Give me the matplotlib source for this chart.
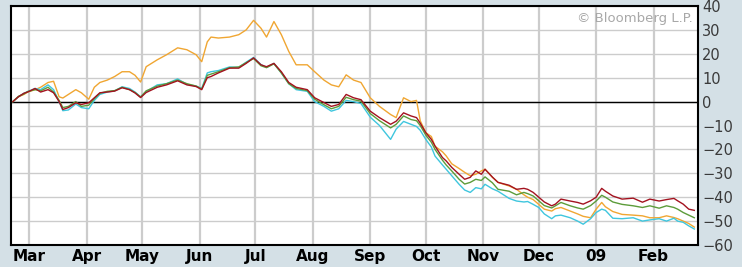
import numpy as np
import matplotlib.pyplot as plt
import matplotlib.dates as mdates
from matplotlib.ticker import FuncFormatter

# Sample dates (Feb 2008 - Feb 2009)
dates = np.array([
    '2008-02-21', '2008-02-24', '2008-02-27', '2008-02-29', '2008-03-04', '2008-03-07',
    '2008-03-11', '2008-03-14', '2008-03-17', '2008-03-19', '2008-03-22', '2008-03-26',
    '2008-03-29', '2008-04-02', '2008-04-05', '2008-04-08', '2008-04-12', '2008-04-16',
    '2008-04-20', '2008-04-24', '2008-04-27', '2008-04-30', '2008-05-03', '2008-05-09',
    '2008-05-14', '2008-05-20', '2008-05-25', '2008-05-30', '2008-06-02', '2008-06-05',
    '2008-06-07', '2008-06-11', '2008-06-17', '2008-06-22', '2008-06-26', '2008-06-30',
    '2008-07-04', '2008-07-07', '2008-07-11', '2008-07-15', '2008-07-19', '2008-07-23',
    '2008-07-29', '2008-08-02', '2008-08-07', '2008-08-11', '2008-08-15', '2008-08-19',
    '2008-08-23', '2008-08-27', '2008-09-01', '2008-09-06', '2008-09-12', '2008-09-15',
    '2008-09-19', '2008-09-23', '2008-09-26', '2008-09-28', '2008-10-01', '2008-10-04',
    '2008-10-06', '2008-10-10', '2008-10-12', '2008-10-15', '2008-10-19', '2008-10-22',
    '2008-10-25', '2008-10-28', '2008-10-31', '2008-11-02', '2008-11-06', '2008-11-09',
    '2008-11-15', '2008-11-19', '2008-11-23', '2008-11-25', '2008-11-28', '2008-12-01',
    '2008-12-04', '2008-12-08', '2008-12-10', '2008-12-13', '2008-12-18', '2008-12-22',
    '2008-12-25', '2008-12-29', '2009-01-01', '2009-01-04', '2009-01-06', '2009-01-10',
    '2009-01-15', '2009-01-21', '2009-01-26', '2009-01-30', '2009-02-04', '2009-02-08',
    '2009-02-12', '2009-02-14', '2009-02-17', '2009-02-20', '2009-02-23',
], dtype='datetime64[D]')

# percent change, four series
orange = [
    0, 2, 3, 4, 5, 6, 8, 8.5, 2, 1.5, 3, 5, 3.7, 1, 6, 8, 9, 10.5, 12.5, 12.5, 11,
    8.2, 14.6, 17.5, 19.6, 22.5, 21.7, 19.6, 16.7, 25, 27, 26.6, 27, 28, 30, 34,
    30.7, 27, 33.5, 28, 21, 15.4, 15.4, 12.5, 9, 7, 6.2, 11.2, 9, 8, 1.6, -2, -5.4,
    -6.7, 1.6, 0, 0.5, -8, -13, -14.6, -18.7, -21, -22.7, -26, -28, -29.6, -31,
    -30.4, -29, -28.3, -31.7, -33.8, -35.3, -36.7, -39, -40, -41, -43, -45, -45.8,
    -44.8, -44.3, -45.8, -47, -48, -48.6, -45, -42.2, -44, -46, -47.2, -47.5, -47.8,
    -48.6, -48.6, -47.8, -48.5, -49, -50, -51, -52.5,
]
red = [
    0, 2, 3.5, 4, 5.5, 4, 5, 3.7, 0, -3.3, -2.5, -0.5, -1.2, -0.5, 1.6, 3.7, 4, 4.4,
    5.8, 5, 3.6, 1.7, 3.8, 6, 7, 8.7, 7, 6.3, 5, 10, 10.5, 12, 14, 14, 16, 18.3,
    15.4, 14.6, 16, 12.5, 8, 6, 5, 1.6, -0.4, -2, -1.2, 3, 1.6, 0.8, -4, -6.7, -9.5,
    -8.2, -4.7, -6, -6.7, -9, -13, -15.8, -18.6, -23.4, -24.8, -27.5, -30.4, -32.5,
    -31.7, -29, -30.4, -28.3, -31.6, -33.8, -35, -36.7, -36.3, -36.7, -38, -40, -42,
    -43.6, -42.9, -40.8, -41.6, -42.2, -42.9, -41.5, -40, -36.3, -37.5, -39.5, -40.8,
    -40.4, -42.1, -40.8, -41.6, -41, -40.5, -41.5, -42.9, -45, -45.5,
]
green = [
    0, 2.2, 3.2, 4.2, 5, 4.5, 6, 4, 0.5, -2.5, -2, 0, -2, -1.5, 1.2, 3.5, 4.3, 4.6,
    6, 5, 3.8, 1.9, 4.5, 6.5, 7.5, 9, 7.5, 6.5, 5.3, 11, 11.5, 12.5, 14.2, 14.5,
    16.3, 18, 15, 14.2, 15.8, 12, 7.5, 5.5, 4.6, 1, -1.3, -3, -2, 1.8, 0.8, 0.2, -5,
    -8, -11, -9.5, -6, -7.5, -8, -10, -14, -17, -20, -24.5, -26.5, -29, -32.5, -34.5,
    -33.8, -32.5, -33, -31.5, -34, -36.7, -37.5, -39, -38, -38.5, -39.5, -41.5,
    -43.5, -44.5, -43.6, -42.2, -43.6, -44.5, -45, -43.5, -41.6, -39.2, -40, -42,
    -43, -43.6, -44.3, -43.6, -44.6, -43.6, -44.3, -45, -46.4, -47.5, -48.6,
]
cyan = [
    0, 2, 3.5, 4.2, 5.5, 5, 7, 5, 0, -3.8, -3.5, -1, -2.5, -3, 0.5, 3, 4, 4.5, 6.2,
    5.5, 4, 2, 4.2, 7, 7.5, 9.5, 7.2, 6.5, 5.5, 12, 12.5, 13, 14.5, 14.3, 16.5, 18.5,
    15.5, 14.3, 16, 12, 7.5, 5, 4.3, 0, -2, -4, -3, 0.5, 0, -0.8, -6.5, -10, -15.8,
    -11.5, -8.3, -9.5, -10.4, -12, -15.8, -19, -22.8, -26.5, -28.3, -31, -34.6, -37,
    -38, -36, -36.5, -34.6, -36.5, -37.5, -40.5, -41.6, -42, -41.8, -43, -44.3, -47,
    -49, -47.8, -47.5, -48.6, -50, -51.3, -49, -46.4, -45, -45.5, -48.8, -49, -48.6,
    -50, -49.5, -49, -50, -48.8, -50, -50.5, -52, -53.3,
]

yticks = [40, 30, 20, 10, 0, -10, -20, -30, -40, -50, -60]

bg = '#d4e0e6'
fig = plt.figure(figsize=(7.42, 2.67), dpi=100, facecolor=bg)
ax = fig.add_axes([0.0148, 0.0824, 0.9259, 0.8951])
ax.set_facecolor('white')

ax.plot(dates, orange, color='#f0a632', lw=1.0, zorder=3)
ax.plot(dates, cyan, color='#3fc6de', lw=1.0, zorder=4)
ax.plot(dates, green, color='#5c9c3a', lw=1.0, zorder=5)
ax.plot(dates, red, color='#a3121f', lw=1.0, zorder=6)
ax.axhline(0, color='black', lw=1.0, zorder=2)

ax.set_xlim(np.datetime64('2008-02-20'), np.datetime64('2009-02-25'))
ax.set_ylim(-60, 40)

ax.xaxis.set_major_locator(mdates.MonthLocator())
ax.xaxis.set_major_formatter(FuncFormatter(
    lambda v, p: '09' if mdates.num2date(v).month == 1 else mdates.num2date(v).strftime('%b')))
ax.set_yticks(yticks)

ax.grid(axis='x', color='#cccccc', lw=1.6, zorder=1)
ax.grid(axis='y', color='#cccccc', lw=1.0, zorder=1)

ax.yaxis.tick_right()
ax.tick_params(axis='y', length=0, pad=3, labelsize=10.5, labelcolor='#3a3a3a')
ax.tick_params(axis='x', length=0, pad=3, labelsize=11)
for lab in ax.get_xticklabels():
    lab.set_fontweight('bold')

for s in ax.spines.values():
    s.set_color('black')
    s.set_linewidth(1.5)

ax.text(0.993, 0.975, '\u00a9 Bloomberg L.P.', transform=ax.transAxes,
        ha='right', va='top', fontsize=9.5, color='#a8a8a8', zorder=7)

fig.savefig('out.png', dpi=100, facecolor=bg)
